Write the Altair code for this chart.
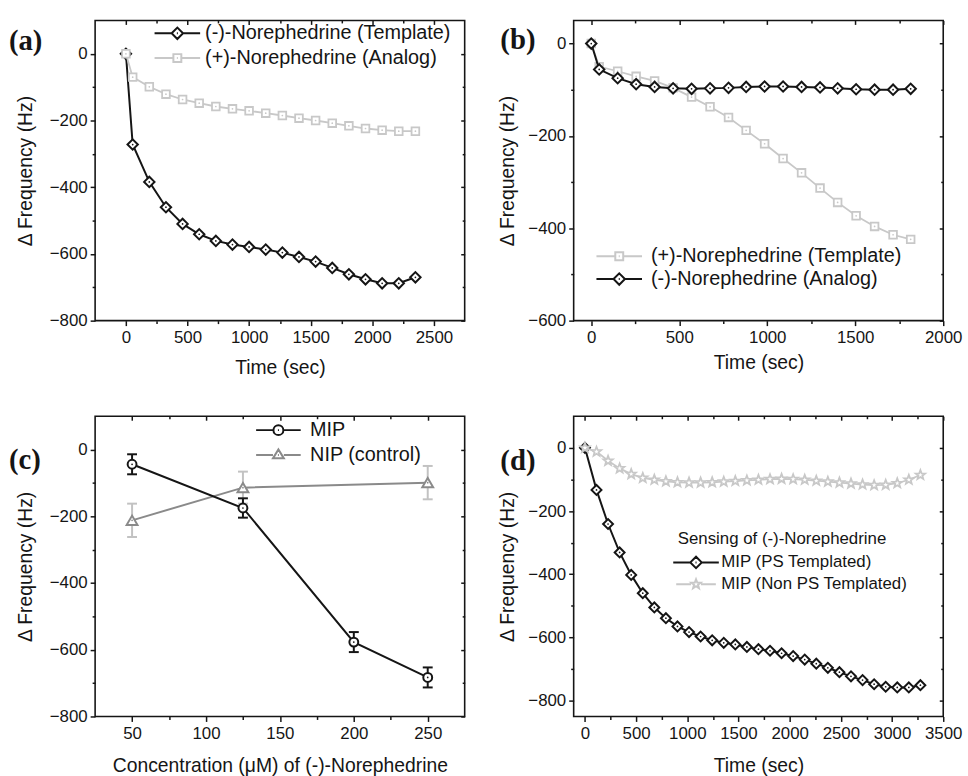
import altair as alt
import pandas as pd

# ---------------- data ----------------
# (a) film templated with (-)-norephedrine
a_time = [0, 55, 190, 325, 460, 595, 730, 865, 1000, 1135, 1270, 1405, 1540, 1675, 1810, 1945, 2080, 2215, 2350]
a_template = [0, -272, -384, -460, -510, -541, -561, -572, -579, -587, -596, -609, -623, -642, -661, -676, -688, -688, -670]
a_analog = [0, -70, -99, -121, -137, -148, -158, -165, -171, -178, -185, -193, -200, -208, -216, -224, -229, -232, -232]

# (b) film templated with (+)-norephedrine
b_time = [0, 45, 150, 255, 360, 465, 570, 675, 780, 880, 985, 1090, 1195, 1300, 1400, 1505, 1610, 1715, 1815]
b_template = [0, -50, -60, -71, -81, -96, -116, -137, -160, -188, -217, -249, -280, -313, -344, -373, -396, -414, -424]
b_analog = [0, -56, -75, -88, -94, -97, -98, -97, -96, -94, -93, -93, -94, -95, -97, -99, -100, -100, -98]

# (c) concentration dependence
c_conc_mip = [50, 125, 200, 250]
c_mip = [-44, -175, -577, -683]
c_mip_err = [30, 29, 30, 30]
c_conc_nip = [50, 125, 250]
c_nip = [-212, -114, -99]
c_nip_err = [50, 48, 50]

# (d) PS-templated vs non-templated MIP
d_time = [0, 113, 226, 339, 452, 565, 678, 791, 904, 1017, 1130, 1243, 1356, 1469, 1582,
          1695, 1808, 1921, 2034, 2147, 2260, 2373, 2486, 2599, 2712, 2825, 2938, 3051, 3164, 3277]
d_ps = [0, -133, -241, -331, -402, -460, -505, -539, -565, -583, -597, -609, -617, -622, -630,
        -637, -642, -650, -659, -670, -683, -696, -710, -723, -735, -748, -756, -758, -758, -751]
d_non_ps = [0, -12, -41, -65, -83, -95, -101, -106, -109, -110, -110, -109, -107, -105, -103,
            -101, -99, -98, -99, -101, -104, -107, -110, -113, -116, -118, -117, -112, -101, -86]

# ---------------- style ----------------
FONT = "Liberation Sans"
INK = "#151515"
LIGHT = "#c8c8c8"
MID = "#8a8a8a"
ERR_LIGHT = "#c2c2c2"
W, H = 373, 303
YTITLE = "Δ Frequency (Hz)"

STAR = ("M0,-1L0.247,-0.34L0.951,-0.309L0.4,0.13L0.588,0.809L0,0.42"
        "L-0.588,0.809L-0.4,0.13L-0.951,-0.309L-0.247,-0.34Z")

# legend glyphs: line + marker in one path
LEG_DIAMOND = "M-4.6,0L-1.15,0M1.15,0L4.6,0M-1.15,0L0,-1.15L1.15,0L0,1.15ZM-0.1,0L0.1,0"
LEG_SQUARE = "M-4.6,0L-0.8,0M0.8,0L4.6,0M-0.8,-0.8L0.8,-0.8L0.8,0.8L-0.8,0.8ZM-0.1,0L0.1,0"
LEG_CIRCLE = "M-4.5,0L-1,0M1,0L4.5,0M-1,0A1,1 0 1,1 1,0A1,1 0 1,1 -1,0ZM-0.1,0L0.1,0"
LEG_TRIANGLE = "M-4.5,0L-1.1,0M1.1,0L4.5,0M-1.1,0.7L0,-1.1L1.1,0.7ZM-0.1,0L0.1,0"
LEG_STAR = ("M-4,0L-1,0M1,0L4,0M0,-1L0.247,-0.34L0.951,-0.309L0.4,0.13L0.588,0.809L0,0.42"
            "L-0.588,0.809L-0.4,0.13L-0.951,-0.309L-0.247,-0.34Z")


def qscale(dom):
    return alt.Scale(domain=dom, nice=False, zero=False)


def frame(xdom, ydom, xmaj, xmin, ymaj, ymin, xtitle, ytitle, xpad=14, ypad=14):
    """Boxed Origin-style axes: outward ticks bottom/left, inward ticks top/right."""
    src = alt.Chart(pd.DataFrame({"x": xdom, "y": ydom})).mark_point(opacity=0)
    xs, ys = qscale(xdom), qscale(ydom)
    bare = dict(grid=False, domain=False, labels=False, title=None, tickColor=INK, tickWidth=1.5)
    lab = dict(grid=False, domain=False, tickColor=INK, tickWidth=1.5, tickSize=5, format="d",
               labelFont=FONT, labelFontSize=17, labelColor=INK, labelFlush=False,
               labelOverlap=False, titleFont=FONT, titleFontSize=19.5,
               titleFontWeight="normal", titleColor=INK)
    main = src.encode(
        x=alt.X("x:Q", scale=xs, axis=alt.Axis(orient="bottom", values=xmaj, labelPadding=4,
                                               title=xtitle, titlePadding=xpad, **lab)),
        y=alt.Y("y:Q", scale=ys, axis=alt.Axis(orient="left", values=ymaj, labelPadding=3,
                                               title=ytitle, titlePadding=ypad, **lab)),
    )
    minor = src.encode(
        x=alt.X("x:Q", scale=xs, axis=alt.Axis(orient="bottom", values=xmin, tickSize=3, **bare)),
        y=alt.Y("y:Q", scale=ys, axis=alt.Axis(orient="left", values=ymin, tickSize=3, **bare)),
    )
    inner = src.encode(
        x=alt.X("x:Q", scale=xs, axis=alt.Axis(orient="top", values=xmaj, tickSize=4, offset=-4, **bare)),
        y=alt.Y("y:Q", scale=ys, axis=alt.Axis(orient="right", values=ymaj, tickSize=4, offset=-4, **bare)),
    )
    inner_minor = src.encode(
        x=alt.X("x:Q", scale=xs, axis=alt.Axis(orient="top", values=xmin, tickSize=2.5, offset=-2.5, **bare)),
        y=alt.Y("y:Q", scale=ys, axis=alt.Axis(orient="right", values=ymin, tickSize=2.5, offset=-2.5, **bare)),
    )
    return [main, minor, inner, inner_minor]


def series(x, y, xdom, ydom, color, shape, size, width=2.0, dot=True):
    base = alt.Chart(pd.DataFrame({"x": x, "y": y})).encode(
        x=alt.X("x:Q", scale=qscale(xdom), axis=None),
        y=alt.Y("y:Q", scale=qscale(ydom), axis=None),
    )
    out = [
        base.mark_line(color=color, strokeWidth=width),
        base.mark_point(shape=shape, size=size, filled=True, fill="white", stroke=color,
                        strokeWidth=width, opacity=1),
    ]
    if dot:
        out.append(base.mark_point(shape="circle", size=3, filled=True, color=color, opacity=1))
    return out


def errorbars(x, y, err, xdom, ydom, color):
    df = pd.DataFrame({"x": x, "lo": [v - e for v, e in zip(y, err)],
                       "hi": [v + e for v, e in zip(y, err)]})
    base = alt.Chart(df)
    xe = alt.X("x:Q", scale=qscale(xdom), axis=None)
    rule = base.mark_rule(color=color, strokeWidth=2).encode(
        x=xe, y=alt.Y("lo:Q", scale=qscale(ydom), axis=None), y2="hi:Q")
    caps = base.transform_fold(["lo", "hi"], as_=["end", "v"]).mark_tick(
        color=color, thickness=2, size=10, orient="horizontal", opacity=1).encode(
        x=xe, y=alt.Y("v:Q", scale=qscale(ydom), axis=None))
    return [rule, caps]


def legend(field, names, colors, paths, lx, ly, fs, row_pad, title=None, sym_offset=0,
           label_offset=22, title_pad=4):
    kw = dict(orient="none", legendX=lx, legendY=ly, padding=0, labelFont=FONT,
              labelFontSize=fs, labelColor=INK, labelLimit=400, symbolSize=100,
              symbolStrokeWidth=2, labelOffset=label_offset, rowPadding=row_pad,
              symbolOffset=sym_offset, symbolFillColor="transparent", symbolOpacity=1)
    if title:
        kw.update(title=title, titleFont=FONT, titleFontSize=fs, titleFontWeight="normal",
                  titleColor=INK, titleLimit=400, titlePadding=title_pad)
    else:
        kw.update(title=None)
    lg = alt.Legend(**kw)
    return alt.Chart(pd.DataFrame({field: names})).transform_filter("false").mark_point(
        filled=False, strokeWidth=2, opacity=1).encode(
        color=alt.Color(f"{field}:N", scale=alt.Scale(domain=names, range=colors), legend=lg),
        shape=alt.Shape(f"{field}:N", scale=alt.Scale(domain=names, range=paths), legend=lg),
    )


def tag(text, dx, dy):
    return alt.Chart(pd.DataFrame({"t": [text]})).mark_text(
        font="Liberation Serif", fontSize=29, fontWeight="bold", align="left",
        baseline="middle", color=INK).encode(x=alt.value(dx), y=alt.value(dy), text="t:N")


def panel(layers):
    return alt.layer(*layers).resolve_axis(x="independent", y="independent").properties(
        width=W, height=H)


# ---------------- (a) ----------------
ax, ay = [-250, 2750], [-800, 100]
pa = panel(
    frame(ax, ay, [0, 500, 1000, 1500, 2000, 2500], [250, 750, 1250, 1750, 2250],
          [-800, -600, -400, -200, 0], [-700, -500, -300, -100], "Time (sec)", YTITLE, xpad=13)
    + series(a_time, a_template, ax, ay, INK, "diamond", 110)
    + series(a_time, a_analog, ax, ay, LIGHT, "square", 60, width=1.8)
    + [legend("sa", ["(-)-Norephedrine (Template)", "(+)-Norephedrine (Analog)"],
              [INK, LIGHT], [LEG_DIAMOND, LEG_SQUARE], 73, 3, 20, 5, label_offset=18),
       tag("(a)", -87, 21)]
)

# ---------------- (b) ----------------
bx, by = [-100, 2000], [-600, 50]
pb = panel(
    frame(bx, by, [0, 500, 1000, 1500, 2000], [250, 750, 1250, 1750],
          [-600, -400, -200, 0], [-500, -300, -100], "Time (sec)", YTITLE, xpad=8, ypad=10)
    + series(b_time, b_template, bx, by, LIGHT, "square", 60, width=1.8)
    + series(b_time, b_analog, bx, by, INK, "diamond", 110)
    + [legend("sb", ["(+)-Norephedrine (Template)", "(-)-Norephedrine (Analog)"],
              [LIGHT, INK], [LEG_SQUARE, LEG_DIAMOND], 36, 228, 20, 3),
       tag("(b)", -74, 20)]
)

# ---------------- (c) ----------------
cx, cy = [25, 275], [-800, 100]
pc = panel(
    frame(cx, cy, [50, 100, 150, 200, 250], [75, 125, 175, 225],
          [-800, -600, -400, -200, 0], [-700, -500, -300, -100],
          "Concentration (μM) of (-)-Norephedrine", YTITLE, xpad=16)
    + errorbars(c_conc_nip, c_nip, c_nip_err, cx, cy, ERR_LIGHT)
    + series(c_conc_nip, c_nip, cx, cy, MID, "triangle-up", 120)
    + errorbars(c_conc_mip, c_mip, c_mip_err, cx, cy, INK)
    + series(c_conc_mip, c_mip, cx, cy, INK, "circle", 80)
    + [legend("sc", ["MIP", "NIP (control)"], [INK, MID], [LEG_CIRCLE, LEG_TRIANGLE],
              175, 4, 20, 5),
       tag("(c)", -87, 44)]
)

# ---------------- (d) ----------------
dx, dy = [-110, 3500], [-850, 100]
pd_ = panel(
    frame(dx, dy, [0, 500, 1000, 1500, 2000, 2500, 3000, 3500],
          [250, 750, 1250, 1750, 2250, 2750, 3250],
          [-800, -600, -400, -200, 0], [-700, -500, -300, -100], "Time (sec)", YTITLE,
          xpad=16, ypad=10)
    + series(d_time, d_ps, dx, dy, INK, "diamond", 100)
    + series(d_time, d_non_ps, dx, dy, LIGHT, STAR, 100, width=1.8, dot=False)
    + [legend("sd", ["MIP (PS Templated)", "MIP (Non PS Templated)"], [INK, LIGHT],
              [LEG_DIAMOND, LEG_STAR], 105, 116, 17, 2, title="Sensing of (-)-Norephedrine",
              sym_offset=10, label_offset=17, title_pad=6),
       tag("(d)", -74, 45)]
)

chart = alt.concat(
    pa, pb, pc, pd_, columns=2, spacing=alt.RowColnumber(row=96.5, column=110), bounds="flush"
).resolve_scale(color="independent", shape="independent").properties(
    padding={"left": 8, "top": 13, "right": 5, "bottom": 0},
    background="white",
).configure_view(stroke=INK, strokeWidth=1.6)

chart.save("out.html", embed_options={"renderer": "svg", "actions": False})
